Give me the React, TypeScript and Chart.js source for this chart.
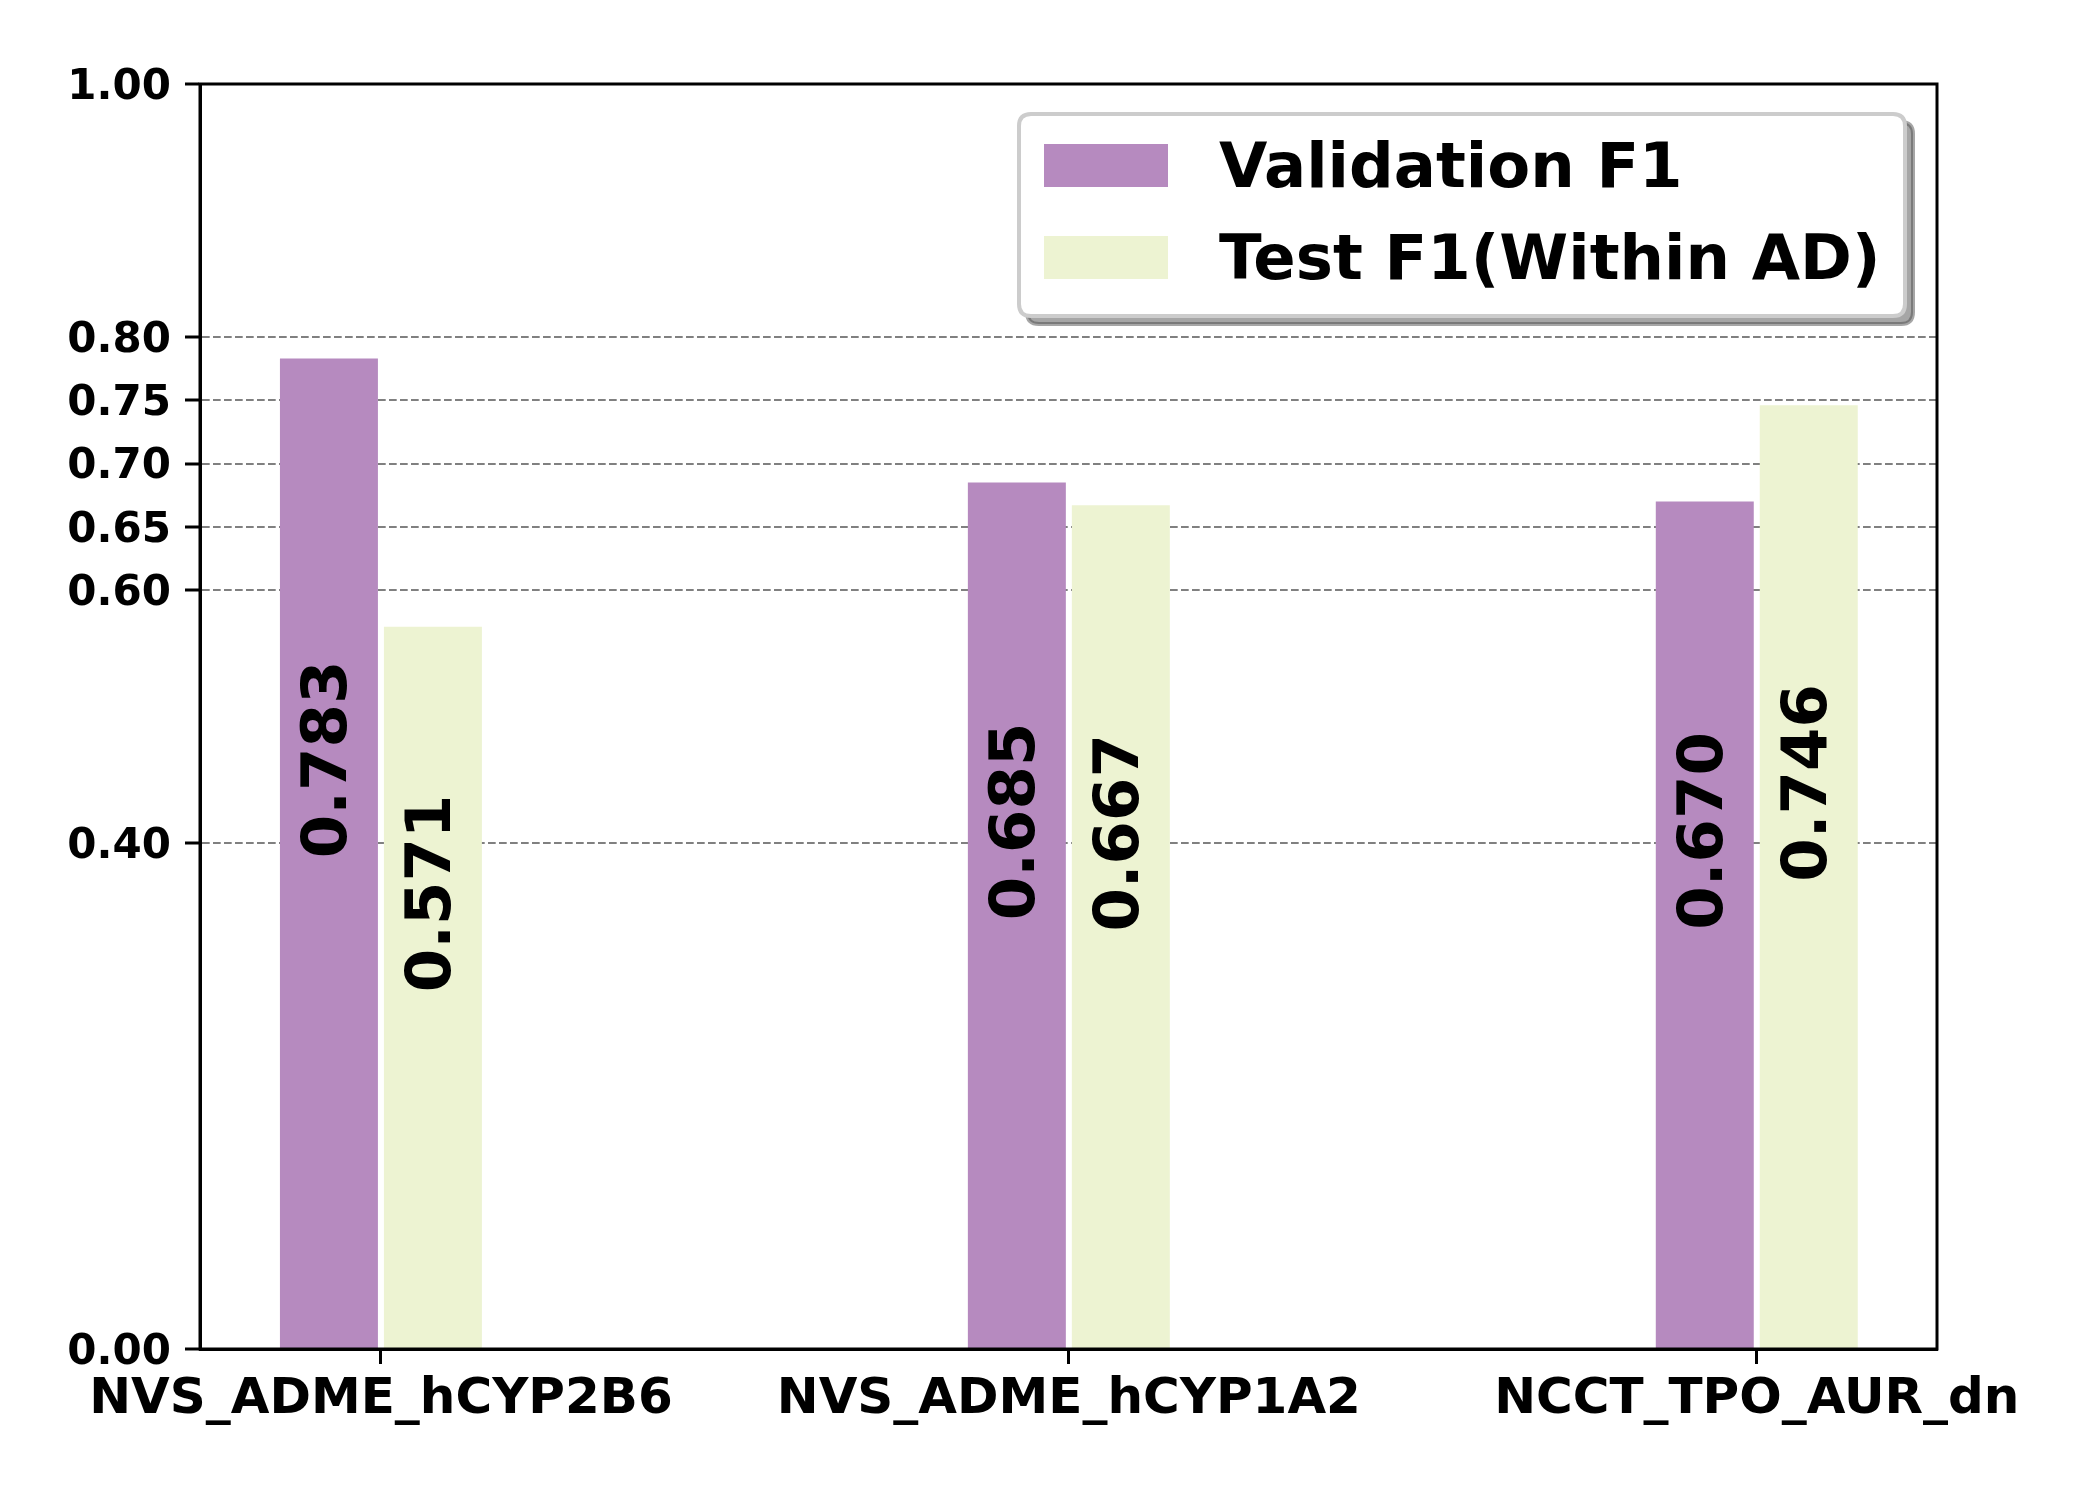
import React, { useEffect, useRef } from "react";
import { Chart, registerables } from "chart.js";

Chart.register(...registerables);

const categories = ["NVS_ADME_hCYP2B6", "NVS_ADME_hCYP1A2", "NCCT_TPO_AUR_dn"];
const validationF1 = [0.783, 0.685, 0.67];
const testF1 = [0.571, 0.667, 0.746];
const seriesNames = ["Validation F1", "Test F1(Within AD)"];
const seriesColors = ["#b68abf", "#edf3d2"];
const yTickValues = [0, 0.4, 0.6, 0.65, 0.7, 0.75, 0.8, 1.0];

const FONT = "'DejaVu Sans', 'Liberation Sans', sans-serif";

function roundRect(ctx: CanvasRenderingContext2D, x: number, y: number, w: number, h: number, r: number) {
  ctx.beginPath();
  ctx.moveTo(x + r, y);
  ctx.lineTo(x + w - r, y);
  ctx.quadraticCurveTo(x + w, y, x + w, y + r);
  ctx.lineTo(x + w, y + h - r);
  ctx.quadraticCurveTo(x + w, y + h, x + w - r, y + h);
  ctx.lineTo(x + r, y + h);
  ctx.quadraticCurveTo(x, y + h, x, y + h - r);
  ctx.lineTo(x, y + r);
  ctx.quadraticCurveTo(x, y, x + r, y);
  ctx.closePath();
}

const framePlugin = {
  id: "framePlugin",
  afterDatasetsDraw(chart: any) {
    const { ctx, chartArea } = chart;
    const { left, right, top, bottom } = chartArea;
    ctx.save();
    // value labels inside bars
    ctx.fillStyle = "#000";
    ctx.font = `bold 62.5px ${FONT}`;
    ctx.textAlign = "left";
    ctx.textBaseline = "middle";
    chart.data.datasets.forEach((ds: any, di: number) => {
      const meta = chart.getDatasetMeta(di);
      meta.data.forEach((el: any, i: number) => {
        const v = ds.data[i].y as number;
        const mid = (el.y + el.base) / 2;
        ctx.save();
        ctx.translate(el.x + 1, mid + 5);
        ctx.rotate(-Math.PI / 2);
        ctx.fillText(v.toFixed(3), 0, 0);
        ctx.restore();
      });
    });
    // frame
    ctx.strokeStyle = "#000";
    ctx.lineWidth = 3;
    ctx.strokeRect(left, top, right - left, bottom - top);

    // legend
    const bx = 1019, by = 114, bw = 886, bh = 202, r = 12;
    ctx.fillStyle = "#a6a6a6";
    roundRect(ctx, bx + 8, by + 8, bw, bh, r);
    ctx.fill();
    ctx.strokeStyle = "rgba(77,77,77,0.5)";
    ctx.lineWidth = 4;
    ctx.stroke();
    ctx.fillStyle = "#ffffff";
    roundRect(ctx, bx, by, bw, bh, r);
    ctx.fill();
    ctx.strokeStyle = "#cccccc";
    ctx.lineWidth = 4;
    ctx.stroke();

    ctx.font = `bold 62.5px ${FONT}`;
    ctx.textAlign = "left";
    ctx.textBaseline = "alphabetic";
    const rowBase = [187, 279];
    seriesNames.forEach((name, i) => {
      const base = rowBase[i];
      ctx.fillStyle = chart.data.datasets[i].backgroundColor;
      ctx.fillRect(1044, base - 43, 124, 43);
      ctx.fillStyle = "#000";
      ctx.fillText(name, 1219, base);
    });
    ctx.restore();
  },
};

export default function App() {
  const ref = useRef<HTMLCanvasElement | null>(null);
  useEffect(() => {
    document.body.style.margin = "0";
    const canvas = ref.current!;
    const chart = new Chart(canvas, {
      type: "bar",
      data: {
        datasets: [
          {
            label: seriesNames[0],
            data: validationF1.map((v, i) => ({ x: i, y: v })),
            backgroundColor: seriesColors[0],
            borderWidth: 0,
          },
          {
            label: seriesNames[1],
            data: testF1.map((v, i) => ({ x: i, y: v })),
            backgroundColor: seriesColors[1],
            borderWidth: 0,
          },
        ],
      },
      options: {
        responsive: false,
        animation: false,
        devicePixelRatio: 1,
        categoryPercentage: 0.3023,
        barPercentage: 0.9423,
        layout: { padding: { left: 0, top: 84, right: 163, bottom: 0 } },
        plugins: {
          legend: { display: false },
          tooltip: { enabled: false },
        },
        scales: {
          x: {
            type: "linear",
            offset: false,
            min: -0.263,
            max: 2.262,
            afterBuildTicks: (axis: any) => {
              axis.ticks = categories.map((_, i) => ({ value: i }));
            },
            afterFit: (axis: any) => {
              axis.height = 151;
            },
            ticks: {
              callback: (value: any) => categories[Math.round(Number(value))],
              font: { family: FONT, weight: "bold", size: 50 },
              color: "#000",
              padding: 6,
              maxRotation: 0,
              autoSkip: false,
            },
            grid: {
              offset: false,
              drawOnChartArea: false,
              drawTicks: true,
              tickLength: 15,
              tickWidth: 3,
              tickColor: "#000",
            },
            border: { display: true, color: "#000", width: 3 },
          },
          y: {
            type: "linear",
            min: 0,
            max: 1,
            afterBuildTicks: (axis: any) => {
              axis.ticks = yTickValues.map((v) => ({ value: v }));
            },
            afterFit: (axis: any) => {
              axis.width = 200;
            },
            ticks: {
              callback: (value: any) => Number(value).toFixed(2),
              font: { family: FONT, weight: "bold", size: 42 },
              color: "#000",
              padding: 14,
              labelOffset: 4,
              autoSkip: false,
            },
            grid: {
              color: (ctx: any) =>
                ctx.tick && (ctx.tick.value === 0 || ctx.tick.value === 1) ? "rgba(0,0,0,0)" : "#808080",
              lineWidth: 2,
              drawTicks: true,
              tickLength: 15,
              tickWidth: 3,
              tickColor: "#000",
            },
            border: { display: true, color: "#000", width: 3, dash: [7.7, 3.3] },
          },
        },
      },
      plugins: [framePlugin],
    } as any);
    return () => chart.destroy();
  }, []);
  return <canvas ref={ref} width={2100} height={1500} style={{ display: "block", width: 2100, height: 1500 }} />;
}
